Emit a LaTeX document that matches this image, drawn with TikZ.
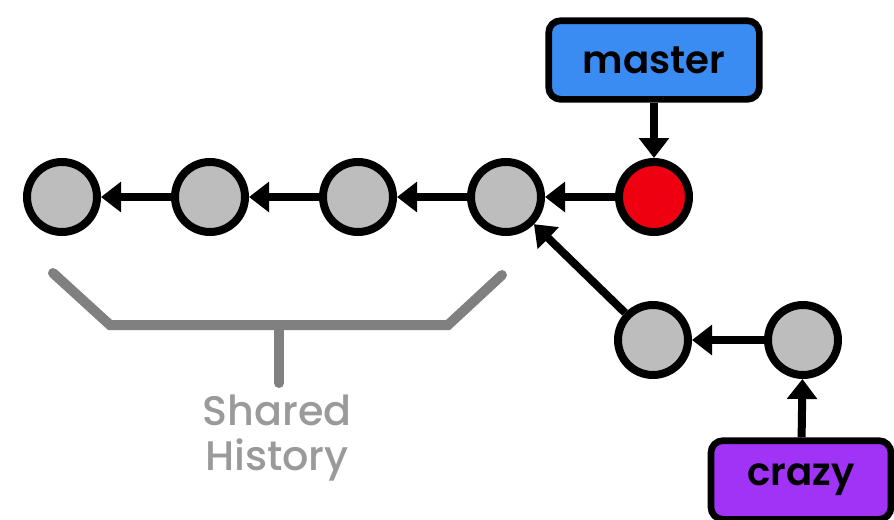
\documentclass[tikz,border=0pt]{standalone}
\usepackage{fontspec}
\setmainfont{Poppins}[BoldFont={* SemiBold}]
\newfontfamily\notefont{Poppins}[UprightFont={* Medium}]
\usetikzlibrary{arrows.meta}

\definecolor{commitgray}{HTML}{BDBDBD}
\definecolor{headred}{HTML}{EE0010}
\definecolor{masterblue}{HTML}{3A8CF2}
\definecolor{crazypurple}{HTML}{A033F5}
\definecolor{bracketgray}{HTML}{808080}
\definecolor{notegray}{HTML}{9A9A9A}

\tikzset{
    commit/.style={circle, draw=black, line width=6pt, fill=commitgray,
        minimum size=52.5pt, inner sep=0pt},
    branchlabel/.style={draw=black, line width=5pt, rounded corners=9pt,
        minimum width=158pt, minimum height=59pt, inner sep=0pt,
        font=\bfseries\fontsize{29}{29}\selectfont},
    parent/.style={line width=6pt, -{Triangle[length=15pt,width=22pt]}}
}

\begin{document}
\begin{tikzpicture}[x=0.75pt, y=-0.75pt]
                \useasboundingbox (0, 0) rectangle (894, 519);

                % commits on master
                \foreach \n/\x in {1/62, 2/210, 3/358, 4/506}
                    \node[commit] (c\n) at (\x, 197) {};
                \node[commit, fill=headred] (c5) at (654, 197) {};

                % commits on crazy
                \node[commit] (b1) at (653, 340) {};
                \node[commit] (b2) at (803, 340) {};

                % branch labels
                \node[branchlabel, fill=masterblue] (master) at (654, 60) {master};
                \node[branchlabel, fill=crazypurple, minimum width=135pt] (crazy) at (801, 480) {crazy};

                % parent links
                \foreach \a/\b in {c2/c1, c3/c2, c4/c3, c5/c4, b2/b1, b1/c4}
                    \draw[parent] (\a) -- (\b);
                \draw[parent] (master) -- (c5);
                \draw[parent] (crazy) -- (b2);

                % shared history bracket
                \coordinate (hl) at (53, 273);
                \coordinate (hr) at (502, 275);
                \coordinate (hm) at (279, 325);
                \coordinate (hs) at (279, 383);
                \draw[bracketgray, line width=7.5pt, line cap=round]
                    (hl) -- (110, 325) -- (448, 325) -- (hr);
                \draw[bracketgray, line width=7.5pt, line cap=round] (hm) -- (hs);
                \node[text=notegray, font=\notefont\fontsize{31}{34}\selectfont, align=center, anchor=north]
                    (note) at (277, 390) {Shared\\History};
\end{tikzpicture}
\end{document}
